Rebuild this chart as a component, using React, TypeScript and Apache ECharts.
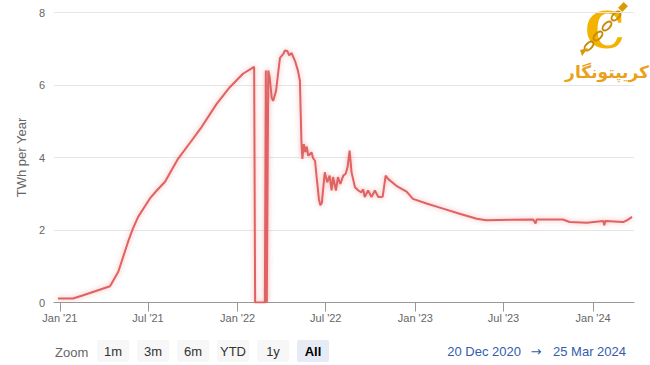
import React, { useEffect, useRef } from "react";
import * as echarts from "echarts";

// ---- data ----
const dates: string[] = [
  "2020-12-28", "2021-01-28", "2021-02-18", "2021-04-14", "2021-05-01", "2021-05-11",
  "2021-05-21", "2021-05-31", "2021-06-11", "2021-07-05", "2021-07-19", "2021-08-05",
  "2021-08-18", "2021-09-01", "2021-09-25", "2021-10-19", "2021-11-19", "2021-12-16",
  "2022-01-12", "2022-02-04", "2022-02-06", "2022-02-26", "2022-02-28", "2022-03-02",
  "2022-03-05", "2022-03-08", "2022-03-12", "2022-03-15", "2022-03-21", "2022-03-25",
  "2022-03-29", "2022-04-05", "2022-04-08", "2022-04-13", "2022-04-17", "2022-04-22",
  "2022-04-29", "2022-05-05", "2022-05-09", "2022-05-12", "2022-05-14", "2022-05-17",
  "2022-05-20", "2022-05-23", "2022-05-26", "2022-06-02", "2022-06-05", "2022-06-09",
  "2022-06-13", "2022-06-17", "2022-06-20", "2022-06-23", "2022-06-29", "2022-07-04",
  "2022-07-09", "2022-07-13", "2022-07-16", "2022-07-22", "2022-07-26", "2022-07-31",
  "2022-08-06", "2022-08-11", "2022-08-15", "2022-08-19", "2022-08-23", "2022-08-30",
  "2022-09-06", "2022-09-12", "2022-09-16", "2022-09-19", "2022-09-26", "2022-10-03",
  "2022-10-10", "2022-10-17", "2022-10-26", "2022-11-01", "2022-11-06", "2022-11-23",
  "2022-12-14", "2022-12-27", "2023-01-24", "2023-02-27", "2023-04-02", "2023-05-07",
  "2023-05-27", "2023-07-14", "2023-08-31", "2023-09-05", "2023-09-07", "2023-10-31",
  "2023-11-14", "2023-12-19", "2024-01-22", "2024-01-24", "2024-01-26", "2024-03-03",
  "2024-03-12", "2024-03-21",
];
const twhPerYear: number[] = [
  0.11, 0.11, 0.2, 0.45, 0.85, 1.26,
  1.67, 2.04, 2.37, 2.87, 3.09, 3.33,
  3.64, 3.97, 4.4, 4.84, 5.48, 5.94,
  6.31, 6.5, 0, 0, 6.4, 0,
  6.4, 6.2, 5.65, 5.56, 5.84, 6.3,
  6.75, 6.86, 6.95, 6.94, 6.82, 6.88,
  6.66, 6.39, 6.11, 4.46, 3.96, 4.37,
  4.15, 4.3, 4.05, 4.14, 3.98, 3.91,
  3.37, 2.85, 2.68, 2.75, 3.59, 3.32,
  3.5, 3.09, 3.46, 3.09, 3.46, 3.27,
  3.5, 3.55, 3.75, 4.19, 3.59, 3.18,
  3.09, 3.04, 3.12, 2.91, 3.09, 2.91,
  3.09, 2.91, 2.92, 3.5, 3.41, 3.22,
  3.06, 2.86, 2.73, 2.59, 2.45, 2.31,
  2.27, 2.28, 2.29, 2.18, 2.29, 2.29,
  2.22, 2.2, 2.25, 2.13, 2.25, 2.22,
  2.28, 2.36,
];
const tickDates: string[] = [
  "2021-01-01", "2021-07-01", "2022-01-01", "2022-07-01", "2023-01-01", "2023-07-01", "2024-01-01",
];
const tickLabels: string[] = ["Jan '21", "Jul '21", "Jan '22", "Jul '22", "Jan '23", "Jul '23", "Jan '24"];
const rangeStart = "2020-12-20";
const rangeEnd = "2024-03-25";
const rangeStartLabel = "20 Dec 2020";
const rangeEndLabel = "25 Mar 2024";
const zoomButtons: string[] = ["1m", "3m", "6m", "YTD", "1y", "All"];
const selectedButton = "All";

const ts = (s: string) => {
  const [y, m, d] = s.split("-").map(Number);
  return Date.UTC(y, m - 1, d);
};

const FONT = "Liberation Sans, Arial, Helvetica, sans-serif";

export default function App() {
  const ref = useRef<HTMLDivElement>(null);
  useEffect(() => {
    if (!ref.current) return;
    const chart = echarts.init(ref.current, undefined, { renderer: "svg" });
    const tickTs = tickDates.map(ts);
    const lineData = dates.map((d, i) => [ts(d), twhPerYear[i]]);

    const btnGraphics: any[] = [];
    zoomButtons.forEach((b, i) => {
      const x = 97 + i * 40;
      const sel = b === selectedButton;
      btnGraphics.push({
        type: "rect",
        shape: { x, y: 340, width: 32, height: 22, r: 2 },
        style: { fill: sel ? "#e6ebf5" : "#f7f7f7" },
      });
      btnGraphics.push({
        type: "text",
        x: x + 16,
        y: 351.5,
        style: {
          text: b,
          align: "center",
          verticalAlign: "middle",
          fill: sel ? "#000" : "#333",
          fontSize: 13,
          fontWeight: sel ? "bold" : "normal",
          fontFamily: FONT,
        },
      });
    });

    const chainRings = [
      [589, 46],
      [598, 36],
      [607, 26],
      [616, 16],
    ].map(([cx, cy]) => ({
      type: "ellipse",
      x: cx,
      y: cy,
      rotation: Math.PI / 4,
      shape: { cx: 0, cy: 0, rx: 5.5, ry: 3 },
      style: { fill: "none", stroke: "#c98a06", lineWidth: 2 },
    }));

    chart.setOption({
      animation: false,
      backgroundColor: "#ffffff",
      grid: { left: 54, right: 16, top: 12.5, bottom: 62.5, outerBoundsMode: "none" },
      xAxis: {
        type: "value",
        min: ts(rangeStart),
        max: ts(rangeEnd),
        axisLine: { show: true, lineStyle: { color: "#999", width: 1 } },
        axisTick: {
          show: true,
          length: 9,
          customValues: tickTs,
          lineStyle: { color: "#999" },
        },
        axisLabel: {
          customValues: tickTs,
          color: "#666",
          fontSize: 11,
          fontFamily: FONT,
          margin: 10,
          formatter: (v: number) => {
            let best = -1;
            let bd = Infinity;
            tickTs.forEach((t, i) => {
              const dd = Math.abs(t - v);
              if (dd < bd) {
                bd = dd;
                best = i;
              }
            });
            return bd < 86400000 * 2 ? tickLabels[best] : "";
          },
        },
        splitLine: { show: false },
      },
      yAxis: {
        type: "value",
        min: 0,
        max: 8,
        interval: 2,
        name: "TWh per Year",
        nameLocation: "middle",
        nameGap: 19,
        nameTextStyle: { color: "#666", fontSize: 13, fontFamily: FONT },
        axisLine: { show: false },
        axisTick: { show: false },
        axisLabel: { color: "#666", fontSize: 11, fontFamily: FONT, margin: 9 },
        splitLine: { lineStyle: { color: "#e6e6e6", width: 1 } },
      },
      series: [
        {
          type: "line",
          data: lineData,
          showSymbol: false,
          symbol: "none",
          lineStyle: {
            color: "#e06262",
            width: 2,
            shadowBlur: 5,
            shadowColor: "rgba(220,90,90,0.5)",
          },
          itemStyle: { color: "#e06262" },
        },
      ],
      graphic: [
        {
          type: "text",
          x: 55,
          y: 352,
          style: {
            text: "Zoom",
            align: "left",
            verticalAlign: "middle",
            fill: "#666",
            fontSize: 13,
            fontFamily: FONT,
          },
        },
        ...btnGraphics,
        {
          type: "text",
          x: 521,
          y: 351,
          style: {
            text: rangeStartLabel,
            align: "right",
            verticalAlign: "middle",
            fill: "#335cad",
            fontSize: 13,
            fontFamily: FONT,
          },
        },
        {
          type: "text",
          x: 536,
          y: 351,
          style: {
            text: "→",
            align: "center",
            verticalAlign: "middle",
            fill: "#335cad",
            fontSize: 13,
            fontFamily: "DejaVu Sans, sans-serif",
          },
        },
        {
          type: "text",
          x: 553,
          y: 351,
          style: {
            text: rangeEndLabel,
            align: "left",
            verticalAlign: "middle",
            fill: "#335cad",
            fontSize: 13,
            fontFamily: FONT,
          },
        },
        // logo
        {
          type: "text",
          x: 605,
          y: 30,
          style: {
            text: "C",
            align: "center",
            verticalAlign: "middle",
            fill: "#f5b301",
            fontSize: 50,
            fontWeight: "bold",
            fontFamily: "DejaVu Serif, serif",
          },
        },
        ...chainRings,
        {
          type: "rect",
          x: 623,
          y: 7,
          rotation: Math.PI / 4,
          shape: { x: -4, y: -3, width: 8, height: 6 },
          style: { fill: "#d99a0a" },
        },
        {
          type: "polygon",
          shape: { points: [[580, 50], [588, 48], [582, 56]] },
          style: { fill: "#d99a0a" },
        },
        {
          type: "text",
          x: 607,
          y: 72,
          style: {
            text: "کریپتونگار",
            align: "center",
            verticalAlign: "middle",
            fill: "#eba11a",
            fontSize: 17,
            fontWeight: "bold",
            fontFamily: "DejaVu Sans, sans-serif",
          },
        },
      ],
    });
    return () => chart.dispose();
  }, []);
  return (
    <div
      ref={ref}
      style={{ position: "fixed", left: 0, top: 0, width: 650, height: 365, background: "#fff" }}
    />
  );
}
